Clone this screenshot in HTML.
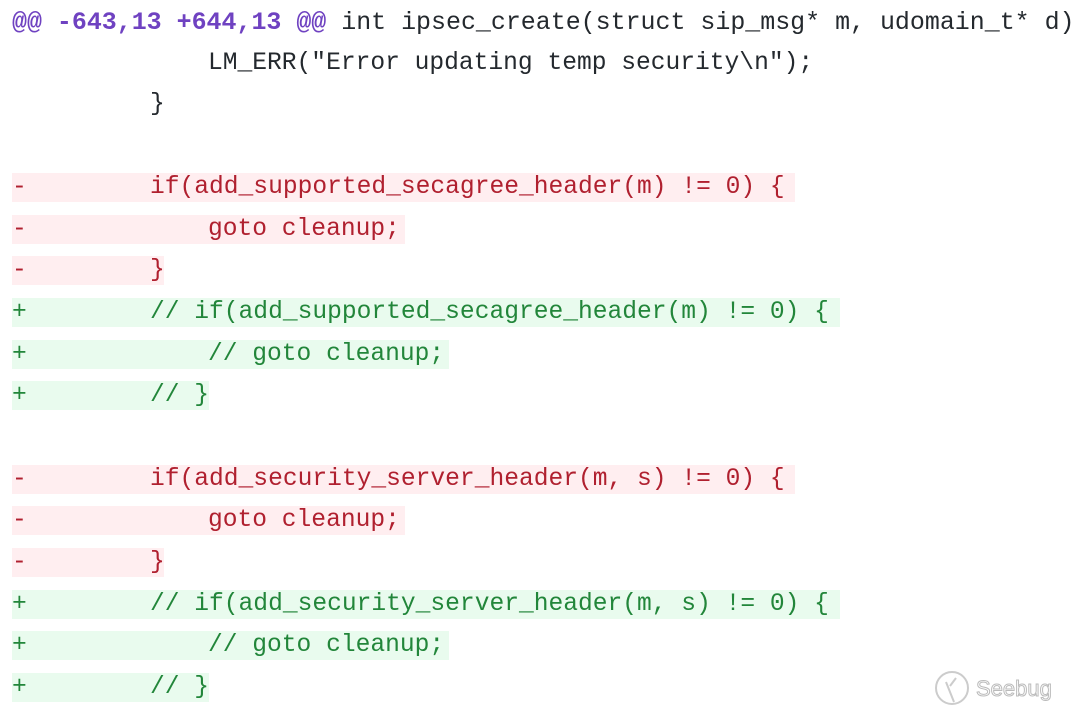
<!DOCTYPE html>
<html><head><meta charset="utf-8"><style>
body{margin:0;width:1080px;height:716px;background:#fff;position:relative;overflow:hidden;font-family:"Liberation Mono",monospace;font-size:24.6px;}
.r{position:absolute;height:29px;line-height:29px;white-space:pre;}
.bg{position:absolute;left:12px;height:29px;}
.s{position:absolute;left:12px;}
.c{position:absolute;}
.d .bg{background:#ffeef0}.d{color:#b0202f}
.a .bg{background:#e9fbee}.a{color:#22863a}
.n{color:#24292e}
</style></head><body>
<div class="r" style="top:9px;left:12px;color:#24292e;font-size:24.95px"><b style="color:#6f42c1">@@ -643,13 +644,13 @@</b> int ipsec_create(struct sip_msg* m, udomain_t* d)</div>
<div class="r n" style="top:49px;left:208px">LM_ERR("Error updating temp security\n");</div>
<div class="r n" style="top:90px;left:150px">}</div>

<div class="r d" style="top:173px;left:0;width:1080px"><div class="bg" style="width:783px"></div><span class="s">-</span><span class="c" style="left:150px">if(add_supported_secagree_header(m) != 0) {</span></div>
<div class="r d" style="top:215px;left:0;width:1080px"><div class="bg" style="width:393px"></div><span class="s">-</span><span class="c" style="left:208px">goto cleanup;</span></div>
<div class="r d" style="top:256px;left:0;width:1080px"><div class="bg" style="width:152px"></div><span class="s">-</span><span class="c" style="left:150px">}</span></div>
<div class="r a" style="top:298px;left:0;width:1080px"><div class="bg" style="width:828px"></div><span class="s">+</span><span class="c" style="left:150px">// if(add_supported_secagree_header(m) != 0) {</span></div>
<div class="r a" style="top:340px;left:0;width:1080px"><div class="bg" style="width:437px"></div><span class="s">+</span><span class="c" style="left:208px">// goto cleanup;</span></div>
<div class="r a" style="top:381px;left:0;width:1080px"><div class="bg" style="width:197px"></div><span class="s">+</span><span class="c" style="left:150px">// }</span></div>

<div class="r d" style="top:465px;left:0;width:1080px"><div class="bg" style="width:783px"></div><span class="s">-</span><span class="c" style="left:150px">if(add_security_server_header(m, s) != 0) {</span></div>
<div class="r d" style="top:506px;left:0;width:1080px"><div class="bg" style="width:393px"></div><span class="s">-</span><span class="c" style="left:208px">goto cleanup;</span></div>
<div class="r d" style="top:548px;left:0;width:1080px"><div class="bg" style="width:152px"></div><span class="s">-</span><span class="c" style="left:150px">}</span></div>
<div class="r a" style="top:590px;left:0;width:1080px"><div class="bg" style="width:828px"></div><span class="s">+</span><span class="c" style="left:150px">// if(add_security_server_header(m, s) != 0) {</span></div>
<div class="r a" style="top:631px;left:0;width:1080px"><div class="bg" style="width:437px"></div><span class="s">+</span><span class="c" style="left:208px">// goto cleanup;</span></div>
<div class="r a" style="top:673px;left:0;width:1080px"><div class="bg" style="width:197px"></div><span class="s">+</span><span class="c" style="left:150px">// }</span></div>

<svg style="position:absolute;left:932px;top:668px" width="140" height="42">
<circle cx="20" cy="20" r="16" fill="none" stroke="#ccc" stroke-width="2"/>
<path d="M14 14 L22 34 M18 18 L24 10" stroke="#ccc" stroke-width="2" fill="none"/>
<text x="44" y="28" font-family="Liberation Sans,sans-serif" font-size="22" fill="#fff" stroke="#bbb" stroke-width="1">Seebug</text>
</svg>
</body></html>
